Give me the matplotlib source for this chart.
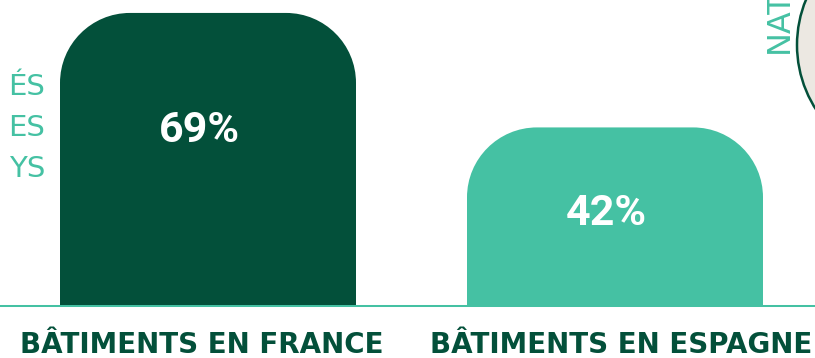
import matplotlib.pyplot as plt
from matplotlib.path import Path
from matplotlib.patches import PathPatch, Circle

# donnees
categories = ["BÂTIMENTS EN FRANCE", "BÂTIMENTS EN ESPAGNE"]
valeurs = [69, 42]
couleurs = ["#03503A", "#45C1A3"]
side_words = ["ÉS", "ES", "YS"]

DARK = "#03503A"
TEAL = "#45C1A3"

W, H = 815, 358
fig = plt.figure(figsize=(W / 100, H / 100), dpi=100)

# axe principal : baseline a y=305.5 px, 4.24 px par %
base_px = 305.5
px_per_pct = 4.24
px_per_cat = 407.0
first_center = 208.0
ax = fig.add_axes([0, (H - base_px) / H, 1, base_px / H])
ax.set_ylim(0, base_px / px_per_pct)
ax.set_xlim(-first_center / px_per_cat, (W - first_center) / px_per_cat)
ax.axis("off")

bar_w = 296 / px_per_cat
r_px = 70
rx = r_px / px_per_cat
ry = r_px / px_per_pct
k = 0.5523


def rounded_bar(x, h, color):
    x0, x1 = x - bar_w / 2, x + bar_w / 2
    verts = [
        (x0, 0), (x0, h - ry),
        (x0, h - ry + k * ry), (x0 + rx - k * rx, h), (x0 + rx, h),
        (x1 - rx, h),
        (x1 - rx + k * rx, h), (x1, h - ry + k * ry), (x1, h - ry),
        (x1, 0), (x0, 0),
    ]
    codes = [Path.MOVETO, Path.LINETO,
             Path.CURVE4, Path.CURVE4, Path.CURVE4,
             Path.LINETO,
             Path.CURVE4, Path.CURVE4, Path.CURVE4,
             Path.LINETO, Path.CLOSEPOLY]
    ax.add_patch(PathPatch(Path(verts, codes), facecolor=color, edgecolor="none"))


for i, (cat, val, col) in enumerate(zip(categories, valeurs, couleurs)):
    rounded_bar(i, val, col)
    # valeur dans la barre
    ax.text(i - 0.022, 0.726 * val - 8.9, f"{val}%", color="white", fontsize=31,
            fontweight="bold", family="Roboto", ha="center", va="center")
    # libelle sous la barre
    ax.text(i + (i - 0.5) * 0.03, -11.1, cat, color=DARK, fontsize=20,
            fontweight="bold", family="DejaVu Sans", ha="center",
            va="baseline", clip_on=False)

ax.axhline(0, color=TEAL, linewidth=1.45, zorder=5, clip_on=False)

# decor : texte coupe a gauche, badge a droite
deco = fig.add_axes([0, 0, 1, 1], zorder=-1)
deco.set_xlim(0, W)
deco.set_ylim(H, 0)
deco.axis("off")
for j, word in enumerate(side_words):
    deco.text(45, 95 + j * 41, word, color=TEAL, fontsize=21, ha="right",
              va="baseline", family="DejaVu Sans", fontweight="medium")
deco.text(788, 53, "NAT", color=TEAL, fontsize=23, rotation=90,
          rotation_mode="anchor", ha="left", va="baseline", family="DejaVu Sans")
deco.add_patch(Circle((916, 45), 119, facecolor="#ECE8E2", edgecolor=DARK,
                      linewidth=1.8))

fig.savefig("out.png", dpi=100)
